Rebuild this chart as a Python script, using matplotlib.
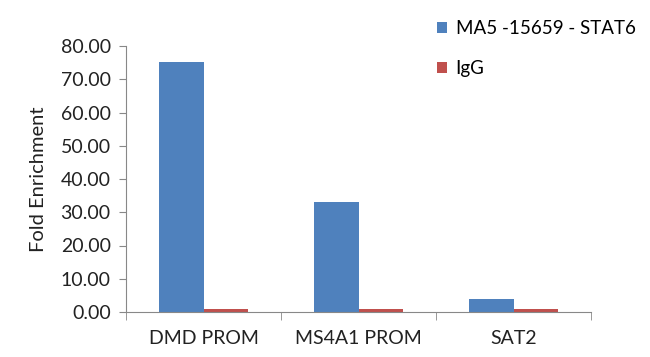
import matplotlib
matplotlib.use("Agg")
import matplotlib.pyplot as plt
import numpy as np

categories = ["DMD PROM", "MS4A1 PROM", "SAT2"]
stat6 = [75.2, 33.0, 3.8]
igg = [1.0, 1.0, 1.0]
series_names = ["MA5 -15659 - STAT6", "IgG"]
yticks = [0, 10, 20, 30, 40, 50, 60, 70, 80]

plt.rcParams['font.family'] = ['Lato', 'DejaVu Sans']

fig = plt.figure(figsize=(6.5, 3.57), dpi=100)
ax = fig.add_axes([126/650, 45/357, 465/650, 266/357])

x = np.arange(len(categories))
w = 0.284
ax.bar(x - w/2, stat6, width=w, color="#4F81BD", label=series_names[0])
ax.bar(x + w/2, igg, width=w, color="#C0504D", label=series_names[1])

ax.set_xlim(-0.5, len(categories) - 0.5)
ax.set_ylim(0, 80)
ax.set_yticks(yticks)
ax.set_yticklabels([f"{v:.2f}" for v in yticks], fontsize=14, color="#222222")
ax.set_xticks(x)
ax.set_xticklabels(categories, fontsize=14, color="#222222")
ax.tick_params(axis='x', length=0, pad=13)
ax.set_xticks(np.arange(-0.5, len(categories)), minor=True)
ax.tick_params(axis='x', which='minor', length=6, color="#888888", direction='out')
ax.tick_params(axis='y', length=5, color="#888888", direction='out', pad=6)
for s in ["top", "right"]:
    ax.spines[s].set_visible(False)
for s in ["left", "bottom"]:
    ax.spines[s].set_color("#888888")
ax.set_ylabel("Fold Enrichment", fontsize=14.5, color="#222222", labelpad=10)

ax.legend(loc="upper left", bbox_to_anchor=(420/650, 1.0 - 3/357), bbox_transform=fig.transFigure,
          frameon=False, fontsize=13.5, handlelength=0.55, handleheight=0.55,
          handletextpad=0.45, labelspacing=1.25)

fig.savefig("out.png", dpi=100)
